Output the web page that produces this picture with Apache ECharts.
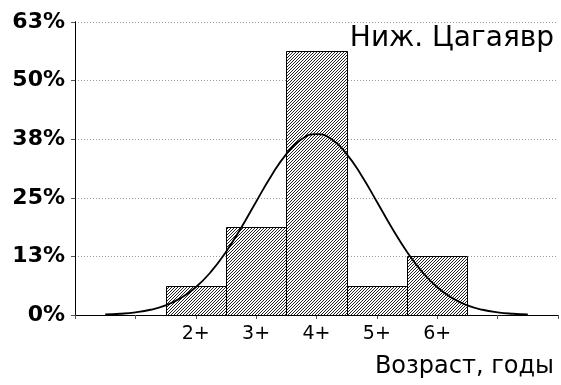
<!DOCTYPE html>
<html>
<head>
<meta charset="utf-8">
<script src="https://cdn.jsdelivr.net/npm/echarts@6/dist/echarts.min.js"></script>
<style>html,body{margin:0;padding:0;background:#fff;}#c{width:561px;height:385px;}</style>
</head>
<body>
<div id="c"></div>
<script>
// ---- data ----
const categories = ['2+', '3+', '4+', '5+', '6+'];
const categoryPos = [2, 3, 4, 5, 6];
const percents = [6.25, 18.75, 56.25, 6.25, 12.5];
const yTickLabels = ['0%', '13%', '25%', '38%', '50%', '63%'];
const curveX = [0.5, 0.75, 1, 1.25, 1.5, 1.75, 2, 2.25, 2.5, 2.75, 3, 3.25, 3.5, 3.75, 4,
  4.25, 4.5, 4.75, 5, 5.25, 5.5, 5.75, 6, 6.25, 6.5, 6.75, 7, 7.25, 7.5];
const curveY = [0.12, 0.27, 0.57, 1.12, 2.06, 3.6, 5.92, 9.19, 13.45, 18.56, 24.16, 29.66, 34.33, 37.48, 38.6,
  37.48, 34.33, 29.66, 24.16, 18.56, 13.45, 9.19, 5.92, 3.6, 2.06, 1.12, 0.57, 0.27, 0.12];
const titleText = 'Ниж. Цагаявр';
const axisName = 'Возраст, годы';

// hatch pattern ("/" diagonals)
const pc = document.createElement('canvas');
pc.width = 3; pc.height = 3;
const g = pc.getContext('2d');
g.fillStyle = '#fff'; g.fillRect(0, 0, 3, 3);
g.fillStyle = '#222';
g.fillRect(0, 2, 1, 1); g.fillRect(1, 1, 1, 1); g.fillRect(2, 0, 1, 1);

const barData = categoryPos.map((x, i) => [x, percents[i]]);

const chart = echarts.init(document.getElementById('c'), null, {renderer: 'canvas'});
chart.setOption({
  animation: false,
  backgroundColor: '#fff',
  title: [
    {text: titleText, right: 2, top: 20, textStyle: {fontFamily: 'DejaVu Sans', fontSize: 28, fontWeight: 'normal', color: '#000'}},
    {text: axisName, right: 2, top: 350, textStyle: {fontFamily: 'DejaVu Sans', fontSize: 24, fontWeight: 'normal', color: '#000'}}
  ],
  grid: {left: 75, right: 3, top: 22, bottom: 70, containLabel: false},
  xAxis: [
    {type: 'value', min: 0, max: 8, interval: 1, position: 'bottom',
     axisLine: {lineStyle: {color: '#000', width: 1}}, axisTick: {show: false},
     axisLabel: {margin: 10, fontFamily: 'DejaVu Sans', fontSize: 19, color: '#000',
       formatter: function (v) { const i = categoryPos.indexOf(v); return i >= 0 ? categories[i] : ''; }},
     splitLine: {show: false}},
    {type: 'value', min: 0, max: 8, interval: 1, position: 'top',
     axisLine: {show: true, lineStyle: {color: '#000', width: 1}},
     axisTick: {show: true, inside: true, length: 4, lineStyle: {color: '#555'}},
     axisLabel: {show: false}, splitLine: {show: false}}
  ],
  yAxis: [
    {type: 'value', min: 0, max: 62.5, interval: 12.5, position: 'left',
     axisLine: {show: true, lineStyle: {color: '#000', width: 1}}, axisTick: {show: false},
     axisLabel: {margin: 10, fontFamily: 'DejaVu Sans', fontSize: 22, fontWeight: 'bold', color: '#000',
       formatter: function (v) { return yTickLabels[Math.round(v / 12.5)]; }},
     splitLine: {show: true, lineStyle: {color: '#999', type: [1, 2], width: 1}}},
    {type: 'value', min: 0, max: 62.5, interval: 12.5, position: 'right',
     axisLine: {show: true, lineStyle: {color: '#000', width: 1}},
     axisTick: {show: true, inside: true, length: 4, lineStyle: {color: '#555'}},
     axisLabel: {show: false}, splitLine: {show: false}}
  ],
  series: [
    {type: 'custom', xAxisIndex: 0, yAxisIndex: 0, data: barData,
     renderItem: function (params, api) {
       const x = api.value(0), y = api.value(1);
       const p0 = api.coord([x - 0.5, y]);
       const p1 = api.coord([x + 0.5, 0]);
       return {type: 'rect', shape: {x: Math.round(p0[0]) + 0.5, y: Math.round(p0[1]) + 0.5,
         width: Math.round(p1[0]) - Math.round(p0[0]), height: Math.round(p1[1]) - Math.round(p0[1])},
         style: {fill: {image: pc, repeat: 'repeat'}, stroke: '#000', lineWidth: 1}};
     }, z: 2},
    {type: 'line', xAxisIndex: 0, yAxisIndex: 0, data: curveX.map((x, i) => [x, curveY[i]]),
     smooth: true, showSymbol: false, lineStyle: {color: '#000', width: 1.8}, z: 5}
  ]
});
</script>
</body>
</html>
